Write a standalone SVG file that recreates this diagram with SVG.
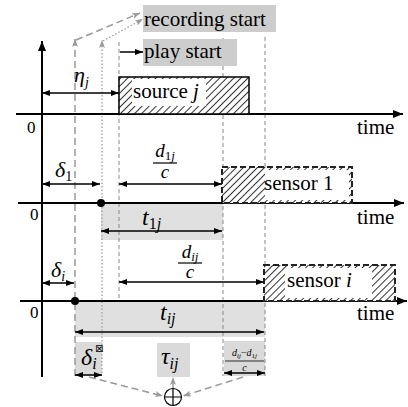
<svg xmlns="http://www.w3.org/2000/svg" width="408" height="407" viewBox="0 0 408 407">
<defs>
<pattern id="hatch" patternUnits="userSpaceOnUse" width="5" height="5" patternTransform="rotate(45)">
<rect width="5" height="5" fill="#fff"/>
<line x1="0" y1="0" x2="0" y2="5" stroke="#333" stroke-width="2"/>
</pattern>
<marker id="ah" viewBox="0 0 8 6" refX="8" refY="3" markerWidth="8" markerHeight="6" markerUnits="userSpaceOnUse" orient="auto-start-reverse">
<path d="M0,0 L8,3 L0,6 z" fill="#000"/>
</marker>
<marker id="axh" viewBox="0 0 10 8" refX="10" refY="4" markerWidth="10" markerHeight="8" markerUnits="userSpaceOnUse" orient="auto">
<path d="M0,0 L10,4 L0,8 z" fill="#000"/>
</marker>
<marker id="gh" viewBox="0 0 8 6" refX="8" refY="3" markerWidth="8" markerHeight="6" markerUnits="userSpaceOnUse" orient="auto">
<path d="M0,0 L8,3 L0,6 L2,3 z" fill="#999"/>
</marker>
</defs>
<style>
.ax{stroke:#000;stroke-width:2;fill:none}
.dim{stroke:#000;stroke-width:1.5;fill:none;marker-start:url(#ah);marker-end:url(#ah)}
.one{stroke:#000;stroke-width:1.5;fill:none;marker-end:url(#ah)}
.gdash{stroke:#999;stroke-width:1.5;stroke-dasharray:7 4;fill:none}
.gdot{stroke:#999;stroke-width:1.2;stroke-dasharray:1.5 2;fill:none}
.tdash{stroke:#888;stroke-width:1;stroke-dasharray:4 3;fill:none}
.garr{marker-end:url(#gh)}
.lbl{font-family:'Liberation Serif','Times New Roman',Times,serif;font-size:21px;fill:#000}
.zero{font-family:'Liberation Serif','Times New Roman',Times,serif;font-size:17px;fill:#000}
.mth{font-family:'Liberation Serif','Times New Roman',Times,serif;font-style:italic;fill:#000}
.gbox{fill:#cdcdcd}
.lbox{fill:#dadada}
.band{fill:#e0e0e0}
</style>

<g id="bands">
<rect class="band" x="101" y="203" width="122" height="37"/>
<rect class="band" x="75" y="301" width="190" height="36"/>
<rect class="lbox" x="75" y="342" width="27" height="34"/>
<rect class="lbox" x="157" y="343" width="33" height="34"/>
<rect class="lbox" x="224" y="341" width="41" height="35"/>
</g>

<g id="connectors">
<path class="gdash garr" d="M75,376 V39"/>
<path class="gdash garr" d="M76,40 L140,13"/>
<path class="gdot garr" d="M102,373 V40"/>
<path class="gdot garr" d="M103,41 L143,19"/>
<path class="tdash" d="M119,42 V299"/>
<path class="tdash" d="M223,38 V376"/>
<path class="tdash" d="M265,37 V376"/>
<path class="ax" d="M42,377 V41" marker-end="url(#axh)"/>
<path class="ax" d="M16,114 H403" marker-end="url(#axh)"/>
<path class="ax" d="M18,203 H404" marker-end="url(#axh)"/>
<path class="ax" d="M20,301 H407" marker-end="url(#axh)"/>
<path class="one" d="M120,52 H143"/>
<path class="dim" d="M42,93 H119"/>
<path class="dim" d="M42,184 H100"/>
<path class="dim" d="M119,184 H222"/>
<path class="dim" d="M101,231 H222"/>
<path class="dim" d="M42,283 H74"/>
<path class="dim" d="M119,282 H264"/>
<path class="dim" d="M75,332 H264"/>
<path class="dim" d="M75,375 H102"/>
<path class="dim" d="M224,373 H265"/>
<path class="gdash garr" d="M89,377 L163,396" stroke-width="1.2"/>
<path class="gdash garr" d="M243,377 L183,396" stroke-width="1.2"/>
<path class="gdash garr" d="M173,388 V377" stroke-width="1.2" stroke-dasharray="3 2"/>
</g>

<g id="recording-start">
<rect class="gbox" x="143" y="5" width="133" height="27"/>
<text class="lbl" x="144" y="26">recording start</text>
</g>
<g id="play-start">
<rect class="gbox" x="143" y="39" width="94" height="27"/>
<text class="lbl" x="144" y="58">play start</text>
</g>

<g id="source-j">
<rect x="119" y="77" width="130" height="37" fill="url(#hatch)"/>
<rect x="132" y="79" width="74" height="27" fill="#fff"/>
<rect x="119" y="77" width="130" height="37" fill="none" stroke="#000" stroke-width="1.5"/>
<text class="lbl" x="133" y="98">source <tspan font-style="italic">j</tspan></text>
</g>

<g id="sensor-1">
<rect x="222" y="167" width="130" height="36" fill="url(#hatch)"/>
<rect x="265" y="170" width="84" height="30" fill="#fff"/>
<rect x="222" y="167" width="130" height="36" fill="none" stroke="#222" stroke-width="2" stroke-dasharray="6 3"/>
<text class="lbl" x="264" y="190">sensor 1</text>
</g>

<g id="sensor-i">
<rect x="264" y="265" width="131" height="36" fill="url(#hatch)"/>
<rect x="285" y="268" width="87" height="30" fill="#fff"/>
<rect x="264" y="265" width="131" height="36" fill="none" stroke="#222" stroke-width="2" stroke-dasharray="6 3"/>
<text class="lbl" x="287" y="287">sensor <tspan font-style="italic">i</tspan></text>
</g>

<g id="axis-labels">
<text class="zero" x="27" y="133">0</text>
<text class="zero" x="30" y="220">0</text>
<text class="zero" x="30" y="318">0</text>
<text class="lbl" x="357" y="134">time</text>
<text class="lbl" x="357" y="224">time</text>
<text class="lbl" x="357" y="320">time</text>
</g>

<g id="dots">
<circle cx="101" cy="203" r="4" fill="#000"/>
<circle cx="75" cy="301" r="4" fill="#000"/>
</g>

<g id="math-labels">
<text class="mth" x="74" y="82" font-size="22">η<tspan font-size="14" dy="5">j</tspan></text>
<text class="mth" x="55" y="177" font-size="22">δ<tspan font-size="14" dy="4" font-style="normal">1</tspan></text>
<text class="mth" x="51" y="277" font-size="22">δ<tspan font-size="14" dy="4">i</tspan></text>
<text class="mth" x="165" y="157" font-size="19" text-anchor="middle">d<tspan font-size="13" dy="3"><tspan font-style="normal">1</tspan>j</tspan></text>
<line x1="153" y1="163" x2="177" y2="163" stroke="#000" stroke-width="1.2"/>
<text class="mth" x="165" y="178" font-size="19" text-anchor="middle">c</text>
<text class="mth" x="190" y="258" font-size="19" text-anchor="middle">d<tspan font-size="13" dy="3">ij</tspan></text>
<line x1="178" y1="263" x2="202" y2="263" stroke="#000" stroke-width="1.2"/>
<text class="mth" x="190" y="278" font-size="19" text-anchor="middle">c</text>
<text class="mth" x="142" y="225" font-size="24">t<tspan font-size="16" dy="4"><tspan font-style="normal">1</tspan>j</tspan></text>
<text class="mth" x="160" y="320" font-size="24">t<tspan font-size="16" dy="4">ij</tspan></text>
<text class="mth" x="161" y="364" font-size="24">τ<tspan font-size="16" dy="5">ij</tspan></text>
<text class="mth" x="81" y="365" font-size="24">δ<tspan font-size="16" dy="4">i</tspan></text>
<text x="95" y="352" font-family="DejaVu Sans,sans-serif" font-size="10" fill="#000">⊠</text>
<text class="mth" x="244.5" y="356" font-size="10" text-anchor="middle">d<tspan font-size="7" dy="2">ij</tspan><tspan dy="-2" font-style="normal">−</tspan>d<tspan font-size="7" dy="2"><tspan font-style="normal">1</tspan>j</tspan></text>
<line x1="225" y1="361" x2="264" y2="361" stroke="#000" stroke-width="0.8"/>
<text class="mth" x="244.5" y="371" font-size="10" text-anchor="middle">c</text>
</g>

<g id="sum">
<circle cx="173" cy="397" r="8.5" fill="#fff" stroke="#000" stroke-width="1.2"/>
<path d="M164.5,397 H181.5 M173,388.5 V405.5" stroke="#000" stroke-width="1.2"/>
</g>
</svg>
